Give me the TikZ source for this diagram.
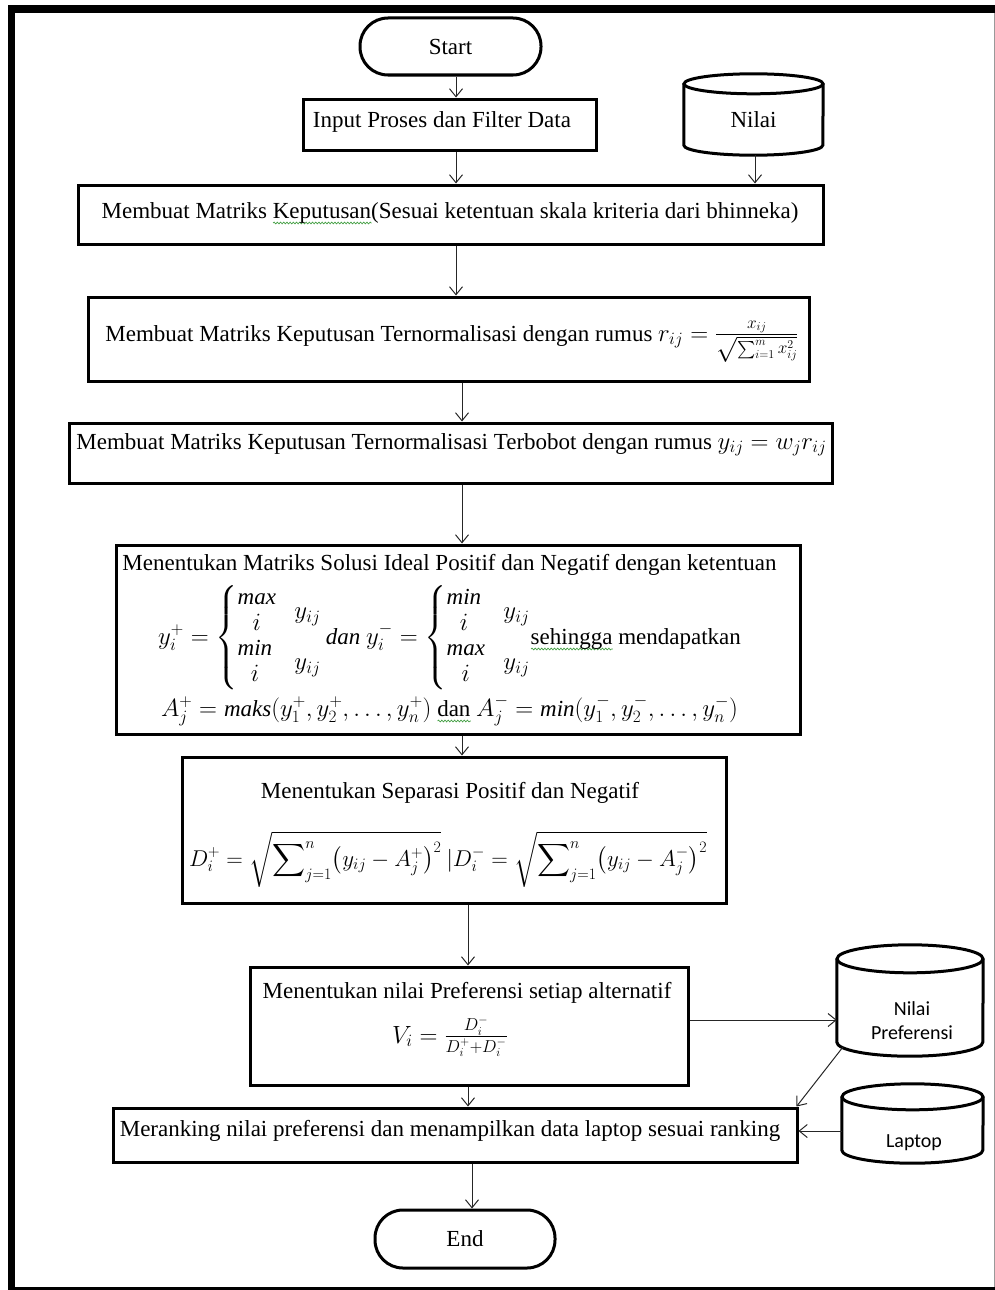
\documentclass[tikz,border=0pt]{standalone}
\usepackage{amsmath}
\usepackage{exscale}
\usepackage{fontspec}
\setmainfont{Liberation Serif}
\newfontfamily\calibrifont{Carlito}
\usetikzlibrary{arrows.meta,decorations.pathmorphing}

\definecolor{spellgreen}{RGB}{70,160,70}
% green wavy underline (spell-check mark)
\newlength\spellw
\newcommand\spellwave[1]{\settowidth\spellw{#1}\rlap{\tikz[baseline=0pt]\draw[spellgreen, line width=0.7pt, decorate, decoration={snake, amplitude=0.9pt, segment length=3.2pt}] (0pt,-5pt) -- (\spellw,-5pt);}#1}

\tikzset{
  box/.style={draw, rectangle, line width=3pt, inner sep=0pt},
  term/.style={draw, rectangle, rounded corners=28pt, line width=3pt, inner sep=0pt},
  txt/.style={inner sep=0pt, anchor=base},
  holder/.style={inner sep=0pt, rectangle},
  cylline/.style={line width=3pt},
  arr/.style={-{Straight Barb[length=8pt,width=13pt]}, line width=1pt, draw=black!85},
}

% cylinder outline around a placeholder node: #1 name, #2 half width, #3 end radius
\newcommand\dbcylinder[3]{%
  \draw[cylline] ([yshift=-#3pt]#1.north west) -- ([yshift=#3pt]#1.south west)
    arc[start angle=180, end angle=360, x radius=#2pt, y radius=#3pt]
    -- ([yshift=-#3pt]#1.north east);
  \draw[cylline] ([yshift=-#3pt]#1.north) ellipse [x radius=#2pt, y radius=#3pt];
}

\begin{document}
\begin{tikzpicture}[x=1pt, y=-1pt, font=\fontsize{23}{27}\selectfont]
\useasboundingbox (0,0) rectangle (995,1290);

% page frame
\fill (8,5) rectangle (15,1290);
\fill (8,5) rectangle (995,13);
\fill (8,1286.5) rectangle (995,1290);
\draw[black!40, line width=1pt] (994.3,13) -- (994.3,1286.5);

% terminals
\node[term, minimum width=181pt, minimum height=57pt] (start) at (450.5,46.5) {Start};
\node[term, minimum width=180pt, minimum height=58pt] (end) at (465,1239) {End};

% input box
\node[box, minimum width=293pt, minimum height=51pt] (input) at (449.5,124.5) {};
\node[txt] (inputlbl) at (442,127) {Input Proses dan Filter Data};

% data stores
\node[holder, minimum width=139pt, minimum height=81pt] (nilai) at (753.5,114.5) {};
\dbcylinder{nilai}{69.5}{10}
\node[txt] (nilailbl) at (753.5,127) {Nilai};

\node[holder, minimum width=146pt, minimum height=111pt] (pref) at (910,1000.5) {};
\dbcylinder{pref}{73}{14}
\node[txt, font=\calibrifont\fontsize{20}{24}\selectfont] (preflbl1) at (912,1015) {Nilai};
\node[txt, font=\calibrifont\fontsize{20}{24}\selectfont] (preflbl2) at (912,1039) {Preferensi};

\node[holder, minimum width=141pt, minimum height=79pt] (laptop) at (912.5,1123.5) {};
\dbcylinder{laptop}{70.5}{13}
\node[txt, font=\calibrifont\fontsize{20}{24}\selectfont] (laptoplbl) at (914,1147) {Laptop};

% step 1
\node[box, minimum width=745pt, minimum height=59pt] (b1) at (450.5,214.5) {};
\node[txt] (b1lbl) at (450,218) {Membuat Matriks \spellwave{Keputusan}(Sesuai ketentuan skala kriteria dari bhinneka)};

% step 2
\node[box, minimum width=721pt, minimum height=84pt] (b2) at (448.5,339) {};
\node[txt] (b2lbl) at (452,341) {Membuat Matriks Keputusan Ternormalisasi dengan rumus $r_{ij} = \frac{x_{ij}}{\sqrt{\sum_{i=1}^{m} x_{ij}^{2}}}$};

% step 3
\node[box, minimum width=763pt, minimum height=60pt] (b3) at (450.5,453) {};
\node[txt] (b3lbl) at (451.5,449) {Membuat Matriks Keputusan Ternormalisasi Terbobot dengan rumus $y_{ij} = w_j r_{ij}$};

% step 4
\node[box, minimum width=684pt, minimum height=189pt] (b4) at (458,639.5) {};
\node[txt] (b4lbl1) at (449.5,570) {Menentukan Matriks Solusi Ideal Positif dan Negatif dengan ketentuan};
\node[txt] (b4lbl2) at (449.5,644) {\renewcommand\arraystretch{0.95}%
  $y_i^+ = \left\{\begin{array}{@{}l@{\hspace{0.8em}}l@{}}
     \begin{array}{@{}c@{}}\textit{max}\\ i\end{array} & y_{ij}\\
     \begin{array}{@{}c@{}}\textit{min}\\ i\end{array} & y_{ij}
   \end{array}\right.
   \textit{dan}\ y_i^- = \left\{\begin{array}{@{}l@{\hspace{0.8em}}l@{}}
     \begin{array}{@{}c@{}}\textit{min}\\ i\end{array} & y_{ij}\\
     \begin{array}{@{}c@{}}\textit{max}\\ i\end{array} & y_{ij}
   \end{array}\right.$\spellwave{sehingga} mendapatkan};
\node[txt] (b4lbl3) at (449.5,716) {$A_j^+ = \textit{maks}(y_1^+, y_2^+, \dots, y_n^+)$ \spellwave{dan} $A_j^- = \textit{min}(y_1^-, y_2^-, \dots, y_n^-)$};

% step 5
\node[box, minimum width=544pt, minimum height=146pt] (b5) at (454,830) {};
\node[txt] (b5lbl1) at (450,798) {Menentukan Separasi Positif dan Negatif};
\node[txt] (b5lbl2) at (448,866) {\scalebox{0.92}{$\displaystyle D_i^+ = \sqrt{\sum\nolimits_{j=1}^{n}\bigl(y_{ij} - A_j^+\bigr)^2}\ |D_i^- = \sqrt{\sum\nolimits_{j=1}^{n}\bigl(y_{ij} - A_j^-\bigr)^2}$}};

% step 6
\node[box, minimum width=438pt, minimum height=118pt] (b6) at (469,1026) {};
\node[txt] (b6lbl1) at (467,998) {Menentukan nilai Preferensi setiap alternatif};
\node[txt] (b6lbl2) at (450,1043) {$V_i = \frac{D_i^-}{D_i^+ + D_i^-}$};

% step 7
\node[box, minimum width=684pt, minimum height=54pt] (b7) at (455,1135) {};
\node[txt] (b7lbl) at (450,1136) {Meranking nilai preferensi dan menampilkan data laptop sesuai ranking};

% connectors
\draw[arr] ([xshift=5.5pt]start.south) -- ([xshift=5.5pt]start.south |- input.north);
\draw[arr] ([xshift=6.5pt]input.south) -- ([xshift=6.5pt]input.south |- b1.north);
\draw[arr] ([xshift=1.5pt]nilai.south) -- ([xshift=1.5pt]nilai.south |- b1.north);
\draw[arr] ([xshift=5.5pt]b1.south) -- ([xshift=5.5pt]b1.south |- b2.north);
\draw[arr] ([xshift=13.5pt]b2.south) -- ([xshift=13.5pt]b2.south |- b3.north);
\draw[arr] ([xshift=11.5pt]b3.south) -- ([xshift=11.5pt]b3.south |- b4.north);
\draw[arr] ([xshift=4pt]b4.south) -- ([xshift=4pt]b4.south |- b5.north);
\draw[arr] ([xshift=14pt]b5.south) -- ([xshift=14pt]b5.south |- b6.north);
\draw[arr] ([yshift=6pt]b6.east) -- ([yshift=6pt]b6.east -| pref.west);
\draw[arr] ([xshift=-1pt]b6.south) -- ([xshift=-1pt]b6.south |- b7.north);
\draw[arr] ([shift={(6pt,9pt)}]pref.south west) -- ([xshift=-2pt]b7.north east);
\draw[arr] ([yshift=-7.5pt]laptop.west) -- ([yshift=-7.5pt]laptop.west -| b7.east);
\draw[arr] ([xshift=17pt]b7.south) -- ([xshift=17pt]b7.south |- end.north);
\end{tikzpicture}
\end{document}
